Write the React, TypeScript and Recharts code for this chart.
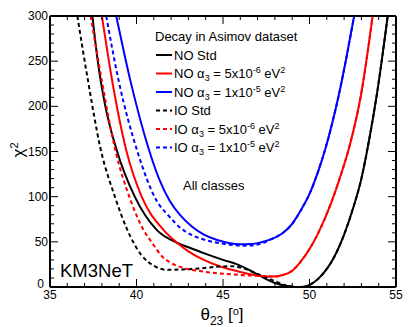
import React from "react";
import { LineChart, Line, XAxis, YAxis } from "recharts";

// NO Std (black solid)
const noStd = [
  [37.45, 300], [37.76, 250], [38.2, 200], [38.85, 152], [39.9, 100], [41.18, 63],
  [42.34, 49], [43.0, 44], [43.89, 37.5], [45.0, 30], [45.82, 25], [46.5, 19],
  [47.17, 12], [48.0, 4.5], [48.7, 1.2], [49.2, 0], [49.7, 0.4], [50.07, 3],
  [50.5, 9], [51.0, 20], [51.42, 33], [52.0, 58], [52.5, 86], [53.0, 120],
  [53.4, 158], [53.9, 214], [54.52, 300],
];

// NO a3 = 5e-6 (red solid)
const no5 = [
  [38.0, 300], [38.58, 230], [39.4, 152], [40.3, 100], [41.57, 63], [42.34, 49],
  [43.0, 39.5], [43.89, 30], [44.8, 23], [45.82, 17.5], [46.5, 14.5], [47.17, 12.3],
  [47.9, 11.5], [48.5, 13.5], [49.0, 18], [49.49, 28], [50.0, 42], [50.46, 58],
  [51.23, 92], [51.81, 124], [52.3, 155], [52.97, 212], [53.65, 300],
];

// NO a3 = 1e-5 (blue solid)
const no10 = [
  [38.83, 300], [39.64, 229], [40.72, 152], [41.3, 120], [41.9, 96], [42.5, 80],
  [43.2, 67], [43.9, 58], [44.66, 52], [45.4, 48.5], [46.0, 47.3], [46.6, 47.5],
  [47.2, 49.5], [47.8, 53], [48.4, 59], [49.0, 70], [49.5, 85], [50.0, 103],
  [50.5, 128], [50.9, 152], [51.71, 214], [52.58, 300],
];

// IO Std (black dashed)
const ioStd = [
  [36.58, 300], [37.2, 228], [37.9, 155], [38.77, 99], [39.45, 64], [40.3, 35],
  [41.0, 23.5], [41.76, 19], [42.7, 19.5], [43.9, 21], [44.7, 22.5], [45.5, 23],
  [46.2, 20.5], [46.8, 16], [47.5, 10.5], [48.0, 6.5], [48.6, 2], [49.2, 0],
  [49.7, 0.4], [50.07, 3], [50.5, 9], [51.0, 20], [51.42, 33], [52.0, 58],
  [52.5, 86], [53.0, 120], [53.4, 158], [53.9, 214], [54.52, 300],
];

// IO a3 = 5e-6 (red dashed)
const io5 = [
  [37.35, 300], [38.0, 228], [38.77, 152], [39.64, 97], [40.41, 63], [40.9, 49],
  [41.47, 34], [41.96, 27], [42.73, 21], [43.89, 17], [44.8, 15], [45.82, 13.6],
  [46.5, 12.8], [47.17, 12.2], [47.9, 11.5], [48.5, 13.5], [49.0, 18], [49.49, 28],
  [50.0, 42], [50.46, 58], [51.23, 92], [51.81, 124], [52.3, 155], [52.97, 212],
  [53.65, 300],
];

// IO a3 = 1e-5 (blue dashed)
const io10 = [
  [38.25, 300], [38.96, 229], [40.02, 152], [41.15, 96], [41.9, 78], [42.5, 66],
  [43.2, 57.5], [43.9, 52.5], [44.66, 49], [45.4, 46.8], [46.1, 45.8], [46.7, 46],
  [47.2, 48], [47.8, 53], [48.4, 59], [49.0, 70], [49.5, 85], [50.0, 103],
  [50.5, 128], [50.9, 152], [51.71, 214], [52.58, 300],
];

const xTicks = Array.from({ length: 21 }, (_, i) => 35 + i);
const yTicks = Array.from({ length: 31 }, (_, i) => i * 10);

const toPts = (arr: number[][]) => arr.map(([x, y]) => ({ x, y }));

const series = [
  { name: "NO Std", data: noStd, color: "#000000", dash: undefined },
  { name: "NO a3 5e-6", data: no5, color: "#ff0000", dash: undefined },
  { name: "NO a3 1e-5", data: no10, color: "#0000ff", dash: undefined },
  { name: "IO Std", data: ioStd, color: "#000000", dash: "4 3" },
  { name: "IO a3 5e-6", data: io5, color: "#ff0000", dash: "4 3" },
  { name: "IO a3 1e-5", data: io10, color: "#0000ff", dash: "4 3" },
];

const font = "'Liberation Sans', Arial, Helvetica, sans-serif";

const BottomTick = (props: any) => {
  const { x, y, payload } = props;
  const major = payload.value % 5 === 0;
  return (
    <g>
      <line x1={x} x2={x} y1={y} y2={y - (major ? 8 : 4)} stroke="#000" />
      {major && (
        <text x={x} y={y + 12} textAnchor="middle" fontSize={12} fontFamily={font} fill="#000">
          {payload.value}
        </text>
      )}
    </g>
  );
};

const TopTick = (props: any) => {
  const { x, y, payload } = props;
  const major = payload.value % 5 === 0;
  return <line x1={x} x2={x} y1={y} y2={y + (major ? 8 : 4)} stroke="#000" />;
};

const LeftTick = (props: any) => {
  const { x, y, payload } = props;
  const major = payload.value % 50 === 0;
  // the "0" label sits a little left/up so it does not run into "35"
  const zero = payload.value === 0;
  return (
    <g>
      <line x1={x} x2={x + (major ? 8 : 4)} y1={y} y2={y} stroke="#000" />
      {major && (
        <text
          x={zero ? x - 6 : x - 2}
          y={zero ? y + 1 : y + 4}
          textAnchor="end"
          fontSize={12}
          fontFamily={font}
          fill="#000"
        >
          {payload.value}
        </text>
      )}
    </g>
  );
};

const RightTick = (props: any) => {
  const { x, y, payload } = props;
  const major = payload.value % 50 === 0;
  return <line x1={x} x2={x - (major ? 8 : 4)} y1={y} y2={y} stroke="#000" />;
};

const LegendRow = ({ y, color, dash, children }: any) => (
  <g>
    <line x1={156} x2={172} y1={y} y2={y} stroke={color} strokeWidth={2} strokeDasharray={dash} />
    <text x={174} y={y + 4.5} fontSize={13} fontFamily={font} fill="#000">
      {children}
    </text>
  </g>
);

const alphaLabel = (pre: string, mant: string, exp: string) => (
  <>
    {pre} α<tspan dy={3} fontSize={9}>3</tspan>
    <tspan dy={-3}>{` = ${mant}x10`}</tspan>
    <tspan dy={-5} fontSize={9}>{exp}</tspan>
    <tspan dy={5}> eV</tspan>
    <tspan dy={-5} fontSize={9}>2</tspan>
  </>
);

export default function App() {
  return (
    <div style={{ position: "absolute", left: 0, top: 0, width: 417, height: 327, background: "#fff" }}>
      <LineChart width={417} height={327} margin={{ top: 15, right: 20, bottom: 0, left: 0 }}>
        <XAxis
          xAxisId="b"
          type="number"
          dataKey="x"
          domain={[35, 55]}
          ticks={xTicks}
          interval={0}
          allowDataOverflow
          height={40}
          tickSize={0}
          tickMargin={0}
          tick={<BottomTick />}
          axisLine={{ stroke: "#000", strokeWidth: 2 }}
          tickLine={false}
        />
        <XAxis
          xAxisId="t"
          orientation="top"
          type="number"
          dataKey="x"
          domain={[35, 55]}
          ticks={xTicks}
          interval={0}
          allowDataOverflow
          height={1}
          tickSize={0}
          tickMargin={0}
          tick={<TopTick />}
          axisLine={{ stroke: "#000", strokeWidth: 2 }}
          tickLine={false}
        />
        <YAxis
          yAxisId="l"
          type="number"
          domain={[0, 300]}
          ticks={yTicks}
          interval={0}
          allowDataOverflow
          width={50}
          tickSize={0}
          tickMargin={0}
          tick={<LeftTick />}
          axisLine={{ stroke: "#000", strokeWidth: 2 }}
          tickLine={false}
        />
        <YAxis
          yAxisId="r"
          orientation="right"
          type="number"
          domain={[0, 300]}
          ticks={yTicks}
          interval={0}
          allowDataOverflow
          width={1}
          tickSize={0}
          tickMargin={0}
          tick={<RightTick />}
          axisLine={{ stroke: "#000", strokeWidth: 2 }}
          tickLine={false}
        />
        {series.map((s) => (
          <Line
            key={s.name}
            xAxisId="b"
            yAxisId="l"
            data={toPts(s.data)}
            dataKey="y"
            type="monotone"
            stroke={s.color}
            strokeWidth={2}
            strokeDasharray={s.dash}
            dot={false}
            isAnimationActive={false}
          />
        ))}
      </LineChart>
      <svg
        width={417}
        height={327}
        style={{ position: "absolute", left: 0, top: 0, pointerEvents: "none" }}
      >
        <text x={155} y={40.5} fontSize={13} fontFamily={font} fill="#000">
          Decay in Asimov dataset
        </text>
        <LegendRow y={55} color="#000">NO Std</LegendRow>
        <LegendRow y={73.5} color="#ff0000">{alphaLabel("NO", "5", "-6")}</LegendRow>
        <LegendRow y={92} color="#0000ff">{alphaLabel("NO", "1", "-5")}</LegendRow>
        <LegendRow y={110.5} color="#000" dash="4 3">IO Std</LegendRow>
        <LegendRow y={129} color="#ff0000" dash="4 3">{alphaLabel("IO", "5", "-6")}</LegendRow>
        <LegendRow y={147.5} color="#0000ff" dash="4 3">{alphaLabel("IO", "1", "-5")}</LegendRow>
        <text x={183} y={189.5} fontSize={13} fontFamily={font} fill="#000">
          All classes
        </text>
        <text x={60} y={277} fontSize={18.5} fontFamily={font} fill="#000">
          KM3NeT
        </text>
        <text x={222} y={320} textAnchor="middle" fontSize={17} fontFamily={font} fill="#000">
          θ<tspan dy={5} fontSize={12}>23</tspan>
          <tspan dy={-5}> [</tspan>
          <tspan dy={-5} fontSize={11}>o</tspan>
          <tspan dy={5}>]</tspan>
        </text>
        <text
          x={24}
          y={150}
          textAnchor="middle"
          fontSize={17}
          fontFamily={font}
          fill="#000"
          transform="rotate(-90 24 150)"
        >
          χ<tspan dy={-6} fontSize={11}>2</tspan>
        </text>
      </svg>
    </div>
  );
}
